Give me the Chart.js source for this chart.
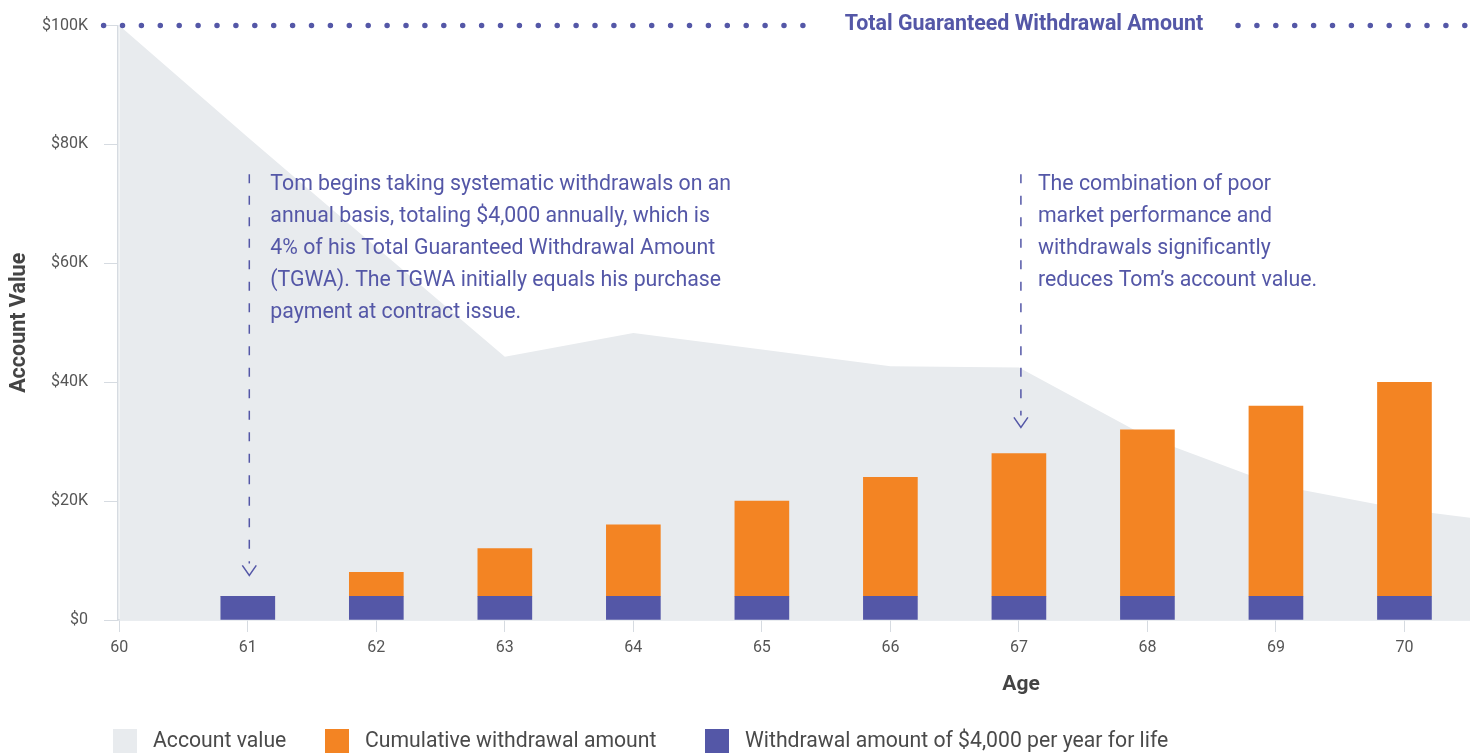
<!DOCTYPE html>
<html>
<head>
<meta charset="utf-8">
<script src="https://cdn.jsdelivr.net/npm/chart.js@4.4.1/dist/chart.umd.min.js"></script>
<style>
  html, body { margin: 0; padding: 0; background: #fff; }
</style>
</head>
<body>
<canvas id="chart" width="1470" height="753"></canvas>
<script>
// ages with withdrawals (bars)
const barAges = [61, 62, 63, 64, 65, 66, 67, 68, 69, 70];
const annualWithdrawal = [4000, 4000, 4000, 4000, 4000, 4000, 4000, 4000, 4000, 4000];
const priorWithdrawals = [0, 4000, 8000, 12000, 16000, 20000, 24000, 28000, 32000, 36000];

// account value (area), last point runs to the right edge
const valueAges = [60, 61, 62, 63, 64, 65, 66, 67, 68, 69, 70, 70.51];
const accountValue = [100000, 81200, 62700, 44300, 48300, 45500, 42700, 42500, 30800, 22700, 18600, 17200];

const tgwa = 100000;

const noteLeft = [
    "Tom begins taking systematic withdrawals on an",
    "annual basis, totaling $4,000 annually, which is",
    "4% of his Total Guaranteed Withdrawal Amount",
    "(TGWA). The TGWA initially equals his purchase",
    "payment at contract issue."
];
const noteRight = [
    "The combination of poor",
    "market performance and",
    "withdrawals significantly",
    "reduces Tom\u2019s account value."
];

const PURPLE = '#5457a7';
const ORANGE = '#f38423';
const AREA = '#e8ebee';
const AXIS = '#d6dbe1';
const TEXT = '#555555';

Chart.defaults.font.family = 'Roboto';

function money(v) {
    return v === 0 ? '$0' : '$' + (v / 1000) + 'K';
}

function drawArrow(ctx, x, yTop, yTip) {
    ctx.save();
    ctx.strokeStyle = PURPLE;
    ctx.lineWidth = 1.5;
    ctx.setLineDash([9, 12.5]);
    ctx.beginPath();
    ctx.moveTo(x, yTop);
    ctx.lineTo(x, yTip - 12);
    ctx.stroke();
    ctx.setLineDash([]);
    ctx.beginPath();
    ctx.moveTo(x - 7, yTip - 10);
    ctx.lineTo(x, yTip);
    ctx.lineTo(x + 7, yTip - 10);
    ctx.stroke();
    ctx.restore();
}

const notesPlugin = {
    id: 'notes',
    afterDatasetsDraw(chart) {
        const { ctx, chartArea: { left, right }, scales: { x, y } } = chart;

        // dotted TGWA line with label in the middle
        const yT = y.getPixelForValue(tgwa);
        ctx.save();
        ctx.strokeStyle = PURPLE;
        ctx.lineWidth = 5.5;
        ctx.lineCap = 'round';
        ctx.setLineDash([0, 18.9]);
        ctx.beginPath();
        ctx.moveTo(left - 14.4, yT);
        ctx.lineTo(806, yT);
        ctx.moveTo(1238, yT);
        ctx.lineTo(right + 5, yT);
        ctx.stroke();
        ctx.setLineDash([]);
        ctx.fillStyle = PURPLE;
        ctx.font = 'bold 21.4px Roboto';
        ctx.textAlign = 'center';
        ctx.textBaseline = 'middle';
        ctx.fillText('Total Guaranteed Withdrawal Amount', 1024, yT - 1);
        ctx.restore();

        // annotation arrows and notes
        const top = y.getPixelForValue(75000);
        const xa = x.getPixelForValue(61) + 1.5;
        const xb = x.getPixelForValue(67) + 2;
        drawArrow(ctx, xa, top, y.getPixelForValue(7500));
        drawArrow(ctx, xb, top, y.getPixelForValue(32400));

        ctx.save();
        ctx.fillStyle = PURPLE;
        ctx.font = '21.3px Roboto';
        ctx.textAlign = 'left';
        ctx.textBaseline = 'middle';
        noteLeft.forEach((t, i) => ctx.fillText(t, xa + 21, top + 10 + i * 32));
        noteRight.forEach((t, i) => ctx.fillText(t, xb + 17, top + 10 + i * 32));
        ctx.restore();

        // x axis title (sits off-centre in the original)
        ctx.save();
        ctx.fillStyle = '#444';
        ctx.font = 'bold 21px Roboto';
        ctx.textAlign = 'center';
        ctx.textBaseline = 'middle';
        ctx.fillText('Age', 1021, 685);
        ctx.restore();

        // legend
        const items = [
            { text: 'Account value', color: AREA, x: 113 },
            { text: 'Cumulative withdrawal amount', color: ORANGE, x: 325 },
            { text: 'Withdrawal amount of $4,000 per year for life', color: PURPLE, x: 705 }
        ];
        ctx.save();
        ctx.font = '21.2px Roboto';
        ctx.textBaseline = 'middle';
        ctx.textAlign = 'left';
        items.forEach(it => {
            ctx.fillStyle = it.color;
            ctx.fillRect(it.x, 729, 24, 24);
            ctx.fillStyle = '#4a4a4a';
            ctx.fillText(it.text, it.x + 40, 742);
        });
        ctx.restore();
    }
};

const ctx = document.getElementById('chart').getContext('2d');

new Chart(ctx, {
    type: 'bar',
    data: {
        datasets: [
            {
                label: 'Withdrawal amount of $4,000 per year for life',
                data: barAges.map((a, i) => ({ x: a, y: annualWithdrawal[i] })),
                backgroundColor: PURPLE,
                barThickness: 54,
                stack: 'w',
                order: 1
            },
            {
                label: 'Cumulative withdrawal amount',
                data: barAges.map((a, i) => ({ x: a, y: priorWithdrawals[i] })),
                backgroundColor: ORANGE,
                barThickness: 54,
                stack: 'w',
                order: 1
            },
            {
                type: 'line',
                label: 'Account value',
                data: valueAges.map((a, i) => ({ x: a, y: accountValue[i] })),
                fill: 'origin',
                backgroundColor: AREA,
                borderWidth: 0,
                pointRadius: 0,
                tension: 0,
                stack: 'av',
                order: 2
            }
        ]
    },
    options: {
        responsive: false,
        animation: false,
        layout: { padding: { top: 22, right: 0, bottom: 0, left: 0 } },
        plugins: {
            legend: { display: false },
            tooltip: { enabled: false }
        },
        scales: {
            x: {
                type: 'linear',
                min: 59.99,
                max: 70.51,
                stacked: true,
                offset: false,
                grid: { drawOnChartArea: false, offset: false, tickLength: 12, color: AXIS },
                border: { color: AXIS, width: 1.5 },
                ticks: {
                    stepSize: 1,
                    includeBounds: false,
                    autoSkip: false,
                    maxRotation: 0,
                    padding: 6,
                    color: TEXT,
                    font: { size: 16 }
                },
                afterFit: s => { s.height = 133; }
            },
            y: {
                min: 0,
                max: 100000,
                stacked: true,
                grid: { drawOnChartArea: false, tickLength: 14, color: AXIS },
                border: { color: AXIS, width: 1.5 },
                ticks: {
                    stepSize: 20000,
                    padding: 16,
                    color: TEXT,
                    font: { size: 16 },
                    callback: v => money(v)
                },
                title: {
                    display: true,
                    text: 'Account Value',
                    color: '#444',
                    font: { size: 21.5, weight: 'bold' },
                    padding: { top: 7, bottom: 0 }
                },
                afterFit: s => { s.width = 118; }
            }
        }
    },
    plugins: [notesPlugin]
});
</script>
</body>
</html>
